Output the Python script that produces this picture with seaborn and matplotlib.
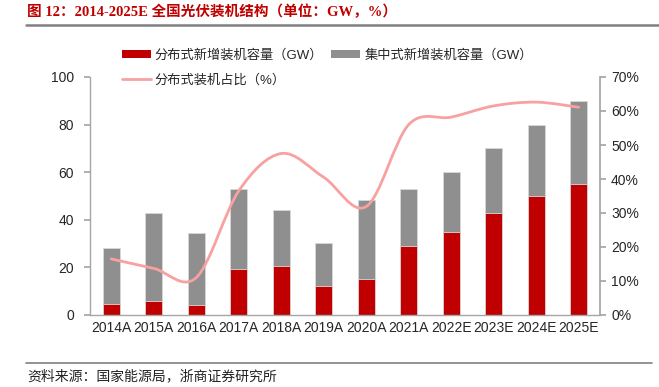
import matplotlib.pyplot as plt
import numpy as np
import pandas as pd
import seaborn as sns
from matplotlib.lines import Line2D
from matplotlib.patches import Patch, PathPatch
from matplotlib.path import Path

years = ["2014A", "2015A", "2016A", "2017A", "2018A", "2019A",
         "2020A", "2021A", "2022E", "2023E", "2024E", "2025E"]
total_gw = [28.1, 43.0, 34.4, 53.0, 44.2, 30.2, 48.2, 53.0, 60.0, 70.0, 80.0, 90.0]
distributed_gw = [4.5, 5.9, 4.1, 19.4, 20.7, 12.1, 15.3, 28.9, 35.0, 43.0, 50.0, 55.0]
distributed_share = [0.165, 0.137, 0.110, 0.365, 0.475, 0.405,
                     0.319, 0.560, 0.582, 0.615, 0.626, 0.611]

RED = "#C00000"
GRAY = "#8F8F8F"
PINK = "#F7A1A1"
SPINE = "#A6A6A6"

df = pd.DataFrame({"year": years, "total": total_gw, "distributed": distributed_gw})

sns.set_theme(style="white")
plt.rcParams["font.family"] = ["Liberation Sans", "Noto Sans CJK SC"]

fig = plt.figure(figsize=(6.59, 3.87), dpi=100)
ax = fig.add_axes([90 / 659, 1 - 315 / 387, 510 / 659, 238 / 387])

# stacked bars: total (grey) underneath, distributed (red) on top of it
sns.barplot(data=df, x="year", y="total", color=GRAY, saturation=1, width=0.41,
            edgecolor="#D9D9D9", linewidth=0.6, ax=ax)
sns.barplot(data=df, x="year", y="distributed", color=RED, saturation=1, width=0.41,
            edgecolor="#D9D9D9", linewidth=0.6, ax=ax)
ax.set_xlim(-0.5, len(years) - 0.5)
ax.set_ylim(0, 100)
ax.set_yticks(range(0, 101, 20))
ax.set_xlabel("")
ax.set_ylabel("")
ax.tick_params(axis="y", labelsize=10, length=4, color=SPINE, pad=7.5, direction="out", left=True)
ax.tick_params(axis="x", labelsize=10, length=0, pad=4)
for side in ["top", "right"]:
    ax.spines[side].set_visible(False)
for side in ["left", "bottom"]:
    ax.spines[side].set_color(SPINE)
    ax.spines[side].set_linewidth(1.0)

# smoothed share line on the right axis (Excel-style bezier through the points)
ax2 = ax.twinx()
ax2.set_ylim(0, 0.7)
ax2.set_yticks(np.arange(0, 0.71, 0.1))
ax2.set_yticklabels([f"{int(round(v * 100))}%" for v in np.arange(0, 0.71, 0.1)])
ax2.tick_params(axis="y", labelsize=10, length=4, color=SPINE, pad=4, direction="out", right=True)
for side in ["top", "left", "bottom"]:
    ax2.spines[side].set_visible(False)
ax2.spines["right"].set_color(SPINE)
ax2.grid(False)

pts = np.column_stack([np.arange(len(years)), distributed_share])
padded = np.vstack([pts[0], pts, pts[-1]])
verts = [tuple(pts[0])]
codes = [Path.MOVETO]
for i in range(len(pts) - 1):
    p0, p1, p2, p3 = padded[i], padded[i + 1], padded[i + 2], padded[i + 3]
    verts += [tuple(p1 + (p2 - p0) / 6), tuple(p2 - (p3 - p1) / 6), tuple(p2)]
    codes += [Path.CURVE4] * 3
ax2.add_patch(PathPatch(Path(verts, codes), facecolor="none", edgecolor=PINK,
                        linewidth=2, capstyle="round"))

handles = [
    Patch(facecolor=RED, edgecolor="none"),
    Line2D([0], [0], color=PINK, linewidth=2),
    Patch(facecolor=GRAY, edgecolor="none"),
]
labels = ["分布式新增装机容量（GW）", "分布式装机占比（%）", "集中式新增装机容量（GW）"]
fig.legend(handles, labels, ncol=2, loc="upper left", bbox_to_anchor=(110 / 659, 1 - 37 / 387),
           frameon=False, fontsize=9.5, handlelength=2.2, handleheight=0.6,
           columnspacing=0.6, handletextpad=0.3, labelspacing=0.95, borderpad=0.4)

fig.text(27 / 659, 1 - 12 / 387, "图 12：2014-2025E 全国光伏装机结构（单位：GW，%）",
         color=RED, fontsize=10.5, fontweight="bold", va="center", ha="left",
         family=["Liberation Serif", "Noto Sans CJK SC"])
fig.add_artist(Line2D([26 / 659, 1.0], [1 - 25 / 387] * 2, color="#808080", linewidth=1.8))
fig.add_artist(Line2D([26 / 659, 652 / 659], [1 - 363 / 387] * 2, color="#808080", linewidth=1.2))
fig.text(27 / 659, 1 - 376 / 387, "资料来源：国家能源局，浙商证券研究所",
         color="#222222", fontsize=10, va="center", ha="left",
         family=["Noto Sans CJK SC", "DejaVu Sans"])

fig.savefig("out.png", dpi=100)
